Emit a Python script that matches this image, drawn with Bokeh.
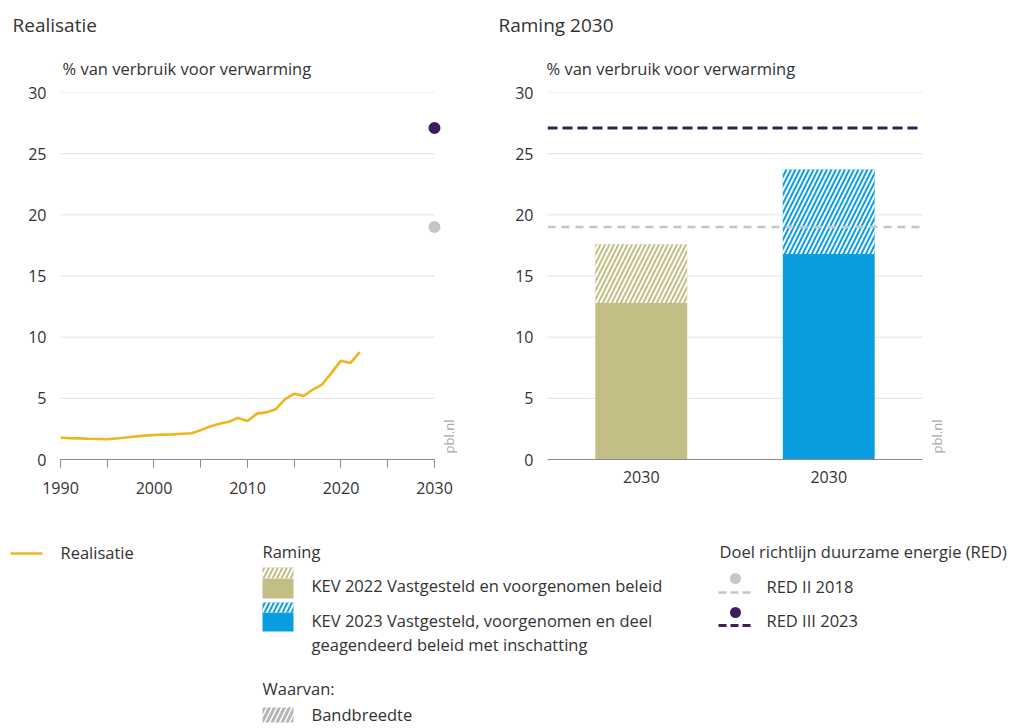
import math
from bokeh.plotting import figure
from bokeh.models import Range1d, SingleIntervalTicker, FixedTicker, ColumnDataSource
from bokeh.layouts import column, row
from bokeh.embed import file_html
from bokeh.resources import INLINE
from bokeh.core.properties import value

FONT = "Open Sans"
TXT = "#333333"

# ---------------- data ----------------
years = list(range(1990, 2023))
realisatie = [1.78, 1.75, 1.73, 1.70, 1.68, 1.65, 1.72, 1.80, 1.88, 1.95,
              2.00, 2.03, 2.05, 2.10, 2.15, 2.40, 2.70, 2.92, 3.08, 3.40,
              3.15, 3.75, 3.85, 4.10, 4.92, 5.38, 5.20, 5.72, 6.15, 7.10,
              8.08, 7.88, 8.78]
target_year = 2030
red_labels = ["RED II 2018", "RED III 2023"]
red_values = [19.0, 27.1]
scenarios = ["KEV 2022", "KEV 2023"]
scenario_labels = ["2030", "2030"]
raming_base = [12.8, 16.8]
raming_upper = [17.6, 23.7]
y_ticks = [0, 5, 10, 15, 20, 25, 30]

C_LINE = "#f0b41c"
C_OLIVE = "#c2be86"
C_BLUE = "#0a9ee0"
C_PURPLE = "#3c1d5c"
C_GRAY = "#c6c6c6"
C_GRID = "#e0e0e0"
C_AXIS = "#8a8a8a"
red_colors = [C_GRAY, C_PURPLE]


def base_style(p):
    p.outline_line_color = None
    p.grid.visible = False
    p.yaxis.ticker = FixedTicker(ticks=y_ticks)
    p.yaxis.axis_line_color = None
    p.yaxis.major_tick_line_color = None
    p.yaxis.minor_tick_line_color = None
    p.yaxis.major_label_standoff = 8
    for ax in p.axis:
        ax.major_label_text_font = FONT
        ax.major_label_text_font_size = "16px"
        ax.major_label_text_color = TXT
    p.xaxis.axis_line_color = C_AXIS
    p.xaxis.axis_line_width = 1.2


def gridlines(p, x0, x1):
    g = [t for t in y_ticks if t > 0]
    p.segment(x0=[x0] * len(g), x1=[x1] * len(g), y0=g, y1=g,
              line_color=C_GRID, line_width=1, level="underlay")


def pbl(p, x, y):
    p.text(x=[x], y=[y], text=["pbl.nl"], angle=math.pi / 2,
           text_font=value(FONT), text_font_size="13px", text_color="#a8a8a8",
           text_align="left", text_baseline="middle")


# ---------------- header ----------------
HH = 80
header = figure(frame_width=1000, frame_height=HH, x_range=Range1d(0, 1000),
                y_range=Range1d(HH, 0), min_border=0, x_axis_type=None, y_axis_type=None,
                output_backend="svg", toolbar_location=None)
header.outline_line_color = None
header.grid.visible = False
header.text(x=[12, 498], y=[24, 24], text=["Realisatie", "Raming 2030"],
            text_font=value(FONT), text_font_size="19px", text_color=TXT,
            text_align="left", text_baseline="middle")
header.text(x=[62, 546], y=[68, 68],
            text=["% van verbruik voor verwarming", "% van verbruik voor verwarming"],
            text_font=value(FONT), text_font_size="16.5px", text_color=TXT,
            text_align="left", text_baseline="middle")

# ---------------- left: realisatie ----------------
left = figure(frame_width=397, frame_height=367,
              x_range=Range1d(1990, 2032.46), y_range=Range1d(0, 30),
              min_border_left=60, min_border_right=31, min_border_top=12, min_border_bottom=50,
              output_backend="svg", toolbar_location=None)
base_style(left)
left.xaxis.ticker = SingleIntervalTicker(interval=10, num_minor_ticks=2)
left.xaxis.bounds = (1990, 2030)
left.xaxis.major_tick_in = 0
left.xaxis.major_tick_out = 8
left.xaxis.minor_tick_in = 0
left.xaxis.minor_tick_out = 8
left.xaxis.major_tick_line_color = C_AXIS
left.xaxis.minor_tick_line_color = C_AXIS
left.xaxis.major_label_standoff = 14
gridlines(left, 1990, 2030)

left.line(years, realisatie, line_color=C_LINE, line_width=2.6)
left.scatter([target_year] * len(red_values), red_values, size=12,
             fill_color=red_colors, line_color=None)
pbl(left, 2031.5, 0.5)

# ---------------- right: raming 2030 ----------------
xpos = [i + 0.5 for i in range(len(scenarios))]
right = figure(frame_width=413, frame_height=367,
               x_range=Range1d(0, 2.2027), y_range=Range1d(0, 30),
               min_border_left=59, min_border_right=40, min_border_top=12, min_border_bottom=50,
               output_backend="svg", toolbar_location=None)
base_style(right)
right.xaxis.ticker = FixedTicker(ticks=xpos)
right.xaxis.major_label_overrides = {x: lab for x, lab in zip(xpos, scenario_labels)}
right.xaxis.bounds = (0, len(scenarios))
right.xaxis.major_tick_line_color = None
right.xaxis.minor_tick_line_color = None
right.xaxis.major_label_standoff = 5
gridlines(right, 0, len(scenarios))

src = ColumnDataSource(dict(x=xpos, base=raming_base, upper=raming_upper,
                            color=[C_OLIVE, C_BLUE]))
right.vbar(x="x", top="base", bottom=0, width=0.49, fill_color="color",
           line_color=None, source=src)
right.vbar(x="x", top="upper", bottom="base", width=0.49, fill_color="color",
           line_color=None, hatch_pattern="/", hatch_color="white",
           hatch_weight=2, hatch_scale=9, source=src)

right.segment(x0=[0], x1=[len(scenarios)], y0=red_values[:1], y1=red_values[:1],
              line_color=C_GRAY, line_width=2.5, line_dash="8 6")
right.segment(x0=[0], x1=[len(scenarios)], y0=red_values[1:], y1=red_values[1:],
              line_color=C_PURPLE, line_width=3, line_dash="10 5")
pbl(right, 2.08, 0.5)

# ---------------- legend ----------------
LH = 217
leg = figure(frame_width=1016, frame_height=LH, x_range=Range1d(0, 1016),
             y_range=Range1d(LH, 0), min_border=0, x_axis_type=None, y_axis_type=None,
             output_backend="svg", toolbar_location=None)
leg.outline_line_color = None
leg.grid.visible = False

leg.line([10, 42], [44, 44], line_color=C_LINE, line_width=2.6)

sw_l, sw_r = 262, 293
leg.quad(left=sw_l, right=sw_r, top=69, bottom=89, fill_color=C_OLIVE, line_color=None)
leg.quad(left=sw_l, right=sw_r, top=58, bottom=69, fill_color=C_OLIVE, line_color=None,
         hatch_pattern="/", hatch_color="white", hatch_weight=2, hatch_scale=9)
leg.quad(left=sw_l, right=sw_r, top=103, bottom=122, fill_color=C_BLUE, line_color=None)
leg.quad(left=sw_l, right=sw_r, top=93, bottom=103, fill_color=C_BLUE, line_color=None,
         hatch_pattern="/", hatch_color="white", hatch_weight=2, hatch_scale=9)
leg.quad(left=sw_l, right=sw_r, top=198, bottom=213, fill_color="white", line_color=None,
         hatch_pattern="/", hatch_color="#b5b5b5", hatch_weight=3, hatch_scale=10)

leg.scatter([735, 735], [69, 103], size=11, fill_color=red_colors, line_color=None)
leg.line([718, 750], [83, 83], line_color=C_GRAY, line_width=2.5, line_dash="8 4")
leg.line([718, 750], [116, 116], line_color=C_PURPLE, line_width=3, line_dash="8 4")

texts = dict(
    x=[60, 262, 311, 311, 311, 262, 311, 719, 766, 766],
    y=[43, 42, 76, 111, 135, 179, 205, 42, 77, 111],
    t=["Realisatie", "Raming", "KEV 2022 Vastgesteld en voorgenomen beleid",
       "KEV 2023 Vastgesteld, voorgenomen en deel",
       "geagendeerd beleid met inschatting", "Waarvan:", "Bandbreedte",
       "Doel richtlijn duurzame energie (RED)", red_labels[0], red_labels[1]],
)
leg.text(x="x", y="y", text="t", source=ColumnDataSource(texts),
         text_font=value(FONT), text_font_size="16.5px", text_color=TXT,
         text_baseline="middle", text_align="left")

layout = column(header, row(left, right, spacing=0), leg, spacing=0)
open("out.html", "w").write(file_html(layout, INLINE))
